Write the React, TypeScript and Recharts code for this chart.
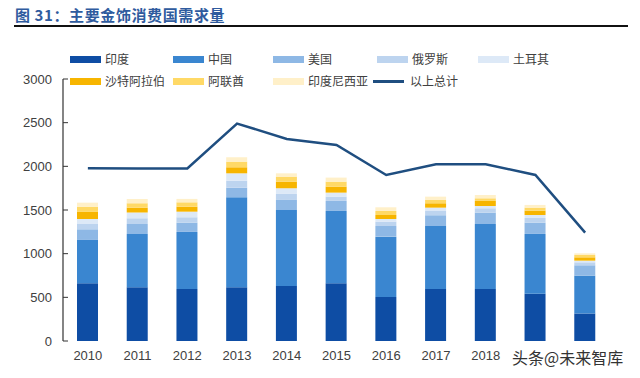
import React from "react";
import { ComposedChart, Bar, Line, XAxis, YAxis } from "recharts";

const years = ["2010", "2011", "2012", "2013", "2014", "2015", "2016", "2017", "2018", "2019", "2020"];
// labels hidden under the watermark in the reference
const coveredYears = ["2019", "2020"];
const india = [660, 615, 595, 615, 630, 660, 505, 595, 595, 540, 315];
const china = [497, 611, 654, 1031, 870, 829, 690, 722, 745, 686, 433];
const usa = [122, 114, 106, 110, 115, 115, 122, 123, 130, 129, 119];
const russia = [61, 65, 62, 80, 69, 49, 50, 49, 50, 54, 34];
const turkey = [57, 65, 64, 84, 65, 46, 30, 38, 26, 34, 19];
const saudi = [81, 57, 57, 69, 76, 69, 46, 50, 58, 50, 38];
const uae = [60, 50, 50, 65, 57, 57, 46, 38, 30, 34, 27];
const indonesia = [46, 50, 39, 50, 38, 46, 42, 38, 38, 31, 19];
const total = [1978, 1975, 1975, 2490, 2314, 2245, 1901, 2024, 2024, 1901, 1241];
const yTicks = [0, 500, 1000, 1500, 2000, 2500, 3000];
const boundaryTicks = [0, 1, 2, 3, 4, 5, 6, 7, 8, 9, 10, 11];

const series = [
  { key: "india", name: "印度", color: "#0E4DA4", values: india },
  { key: "china", name: "中国", color: "#3A86D0", values: china },
  { key: "usa", name: "美国", color: "#8EB8E5", values: usa },
  { key: "russia", name: "俄罗斯", color: "#BDD4EF", values: russia },
  { key: "turkey", name: "土耳其", color: "#DDE9F7", values: turkey },
  { key: "saudi", name: "沙特阿拉伯", color: "#F7B500", values: saudi },
  { key: "uae", name: "阿联酋", color: "#FFD966", values: uae },
  { key: "indonesia", name: "印度尼西亚", color: "#FFF0C9", values: indonesia },
];
const lineName = "以上总计";
const lineColor = "#1F4E80";

const data = years.map((y, i) => {
  const row: any = { year: y, total: total[i] };
  series.forEach((s) => (row[s.key] = s.values[i]));
  return row;
});

const legendPos = [
  { left: 70, top: 53 },
  { left: 173, top: 53 },
  { left: 273, top: 53 },
  { left: 377, top: 53 },
  { left: 478, top: 53 },
  { left: 70, top: 75 },
  { left: 173, top: 75 },
  { left: 273, top: 75 },
];

const font = '"Noto Sans CJK SC", "Noto Sans", sans-serif';

export default function App() {
  return (
    <div style={{ position: "absolute", left: 0, top: 0, width: 640, height: 378, background: "#fff", overflow: "hidden" }}>
      <div
        style={{
          position: "absolute",
          left: 15,
          top: 5,
          fontFamily: font,
          fontWeight: 700,
          fontSize: 15,
          letterSpacing: 0.6,
          color: "#2F5B9E",
          lineHeight: "20px",
        }}
      >
        图 31：主要金饰消费国需求量
      </div>
      <div style={{ position: "absolute", left: 14, top: 25, width: 614, height: 2, background: "#111" }} />
      <ComposedChart
        width={640}
        height={378}
        data={data}
        margin={{ top: 79, right: 30, bottom: 7, left: 23 }}
        barSize={21}
      >
        <XAxis
          dataKey="year"
          xAxisId="cat"
          axisLine={false}
          tickLine={false}
          tickSize={0}
          tickMargin={10}
          tickFormatter={(v: string) => (coveredYears.includes(v) ? "" : v)}
          tick={{ fontSize: 13, fill: "#404040", fontFamily: "Liberation Sans, Arial, sans-serif" }}
          interval={0}
          height={30}
        />
        <XAxis
          xAxisId="edge"
          type="number"
          domain={[0, 11]}
          ticks={boundaryTicks}
          allowDataOverflow
          tick={false}
          tickSize={-5}
          axisLine={{ stroke: "#333", strokeWidth: 1.2 }}
          tickLine={{ stroke: "#333" }}
          height={0}
        />
        <YAxis
          domain={[0, 3000]}
          ticks={yTicks}
          width={40}
          tickSize={-5}
          tickMargin={16}
          axisLine={{ stroke: "#333", strokeWidth: 1.2 }}
          tickLine={{ stroke: "#333" }}
          tick={{ fontSize: 13, fill: "#404040", fontFamily: "Liberation Sans, Arial, sans-serif" }}
        />
        {series.map((s) => (
          <Bar key={s.key} dataKey={s.key} name={s.name} stackId="a" fill={s.color} xAxisId="cat" isAnimationActive={false} />
        ))}
        <Line
          dataKey="total"
          name={lineName}
          xAxisId="cat"
          stroke={lineColor}
          strokeWidth={2.5}
          dot={false}
          activeDot={false}
          type="linear"
          isAnimationActive={false}
        />
      </ComposedChart>
      {series.map((s, i) => (
        <div
          key={s.key}
          style={{
            position: "absolute",
            left: legendPos[i].left,
            top: legendPos[i].top,
            display: "flex",
            alignItems: "center",
            fontFamily: font,
            fontSize: 12,
            color: "#404040",
            lineHeight: "12px",
            whiteSpace: "nowrap",
          }}
        >
          <span style={{ display: "inline-block", width: 31, height: 7, background: s.color, marginRight: 4 }} />
          <span>{s.name}</span>
        </div>
      ))}
      <div
        style={{
          position: "absolute",
          left: 373,
          top: 75,
          display: "flex",
          alignItems: "center",
          fontFamily: font,
          fontSize: 12,
          color: "#404040",
          lineHeight: "12px",
          whiteSpace: "nowrap",
        }}
      >
        <span style={{ display: "inline-block", width: 31, height: 3, background: lineColor, marginRight: 6 }} />
        <span>{lineName}</span>
      </div>
      <div
        style={{
          position: "absolute",
          left: 510,
          top: 346,
          padding: "0 2px",
          background: "#fff",
          fontFamily: font,
          fontSize: 16,
          color: "#333",
          lineHeight: "22px",
          whiteSpace: "nowrap",
        }}
      >
        头条@未来智库
      </div>
    </div>
  );
}
